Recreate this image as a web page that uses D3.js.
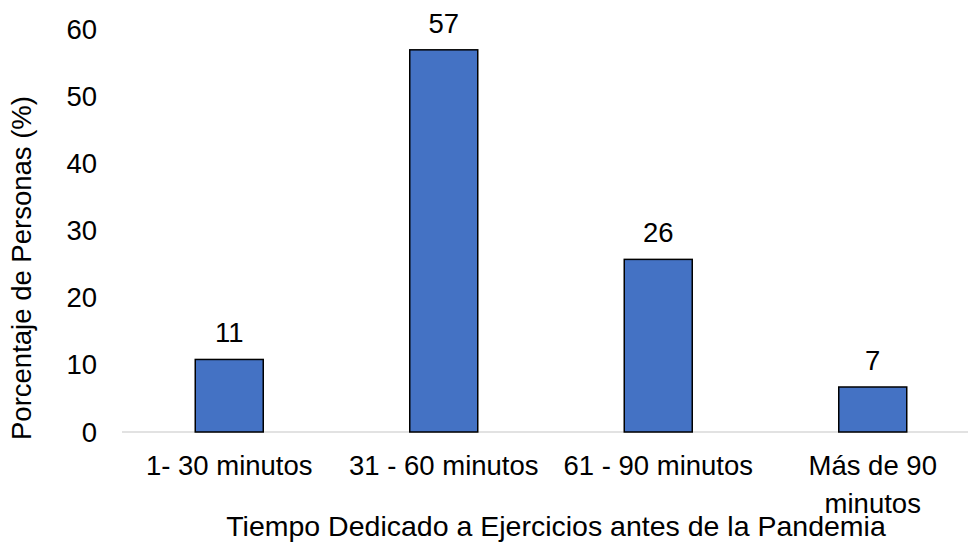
<!DOCTYPE html>
<html>
<head>
<meta charset="utf-8">
<script src="https://cdn.jsdelivr.net/npm/d3@7"></script>
<style>
  html, body { margin: 0; padding: 0; background: #fff; }
  svg { display: block; font-family: "Liberation Sans", Arial, sans-serif; }
</style>
</head>
<body>
<svg id="chart" width="968" height="542"></svg>
<script>
const categories = ["1- 30 minutos", "31 - 60 minutos", "61 - 90 minutos", "Más de 90 minutos"];
const categoryLines = [["1- 30 minutos"], ["31 - 60 minutos"], ["61 - 90 minutos"], ["Más de 90", "minutos"]];
const values = [10.8, 56.9, 25.7, 6.7];
const valueLabels = ["11", "57", "26", "7"];
const yTicks = [0, 10, 20, 30, 40, 50, 60];
const xTitle = "Tiempo Dedicado a Ejercicios antes de la Pandemia";
const yTitle = "Porcentaje de Personas (%)";

const FS = 27.5;
const svg = d3.select("#chart");
const x = d3.scaleBand().domain(categories).range([122, 980]).paddingInner(0.683).paddingOuter(0.3415);
const y = d3.scaleLinear().domain([0, 60]).range([432, 29]);

// y tick labels
svg.append("g").selectAll("text").data(yTicks).join("text")
  .attr("x", 97).attr("y", d => y(d)).attr("dy", "0.35em")
  .attr("text-anchor", "end").attr("font-size", FS).attr("fill", "#000")
  .text(d => d);

// axis line
svg.append("line").attr("x1", 122).attr("x2", 980).attr("y1", y(0)).attr("y2", y(0))
  .attr("stroke", "#d9d9d9").attr("stroke-width", 1.5);

// bars
svg.append("g").selectAll("rect").data(values).join("rect")
  .attr("x", (d, i) => x(categories[i]))
  .attr("width", x.bandwidth())
  .attr("y", d => y(d))
  .attr("height", d => y(0) - y(d))
  .attr("fill", "#4472c4").attr("stroke", "#000").attr("stroke-width", 1.5);

// value labels
svg.append("g").selectAll("text").data(values).join("text")
  .attr("x", (d, i) => x(categories[i]) + x.bandwidth() / 2)
  .attr("y", d => y(d) - 17)
  .attr("text-anchor", "middle").attr("font-size", FS).attr("fill", "#000")
  .text((d, i) => valueLabels[i]);

// category labels
const cat = svg.append("g").selectAll("text").data(categoryLines).join("text")
  .attr("text-anchor", "middle").attr("font-size", FS).attr("fill", "#000");
cat.each(function(lines, i) {
  const t = d3.select(this);
  const cx = x(categories[i]) + x.bandwidth() / 2;
  lines.forEach((l, j) => {
    t.append("tspan").attr("x", cx).attr("y", 475 + j * 38).text(l);
  });
});

// axis titles
svg.append("text").attr("x", 556).attr("y", 536).attr("text-anchor", "middle")
  .attr("font-size", 28.5).attr("fill", "#000").text(xTitle);
svg.append("text").attr("transform", "translate(31,268) rotate(-90)")
  .attr("text-anchor", "middle").attr("font-size", FS).attr("fill", "#000").text(yTitle);
</script>
</body>
</html>
